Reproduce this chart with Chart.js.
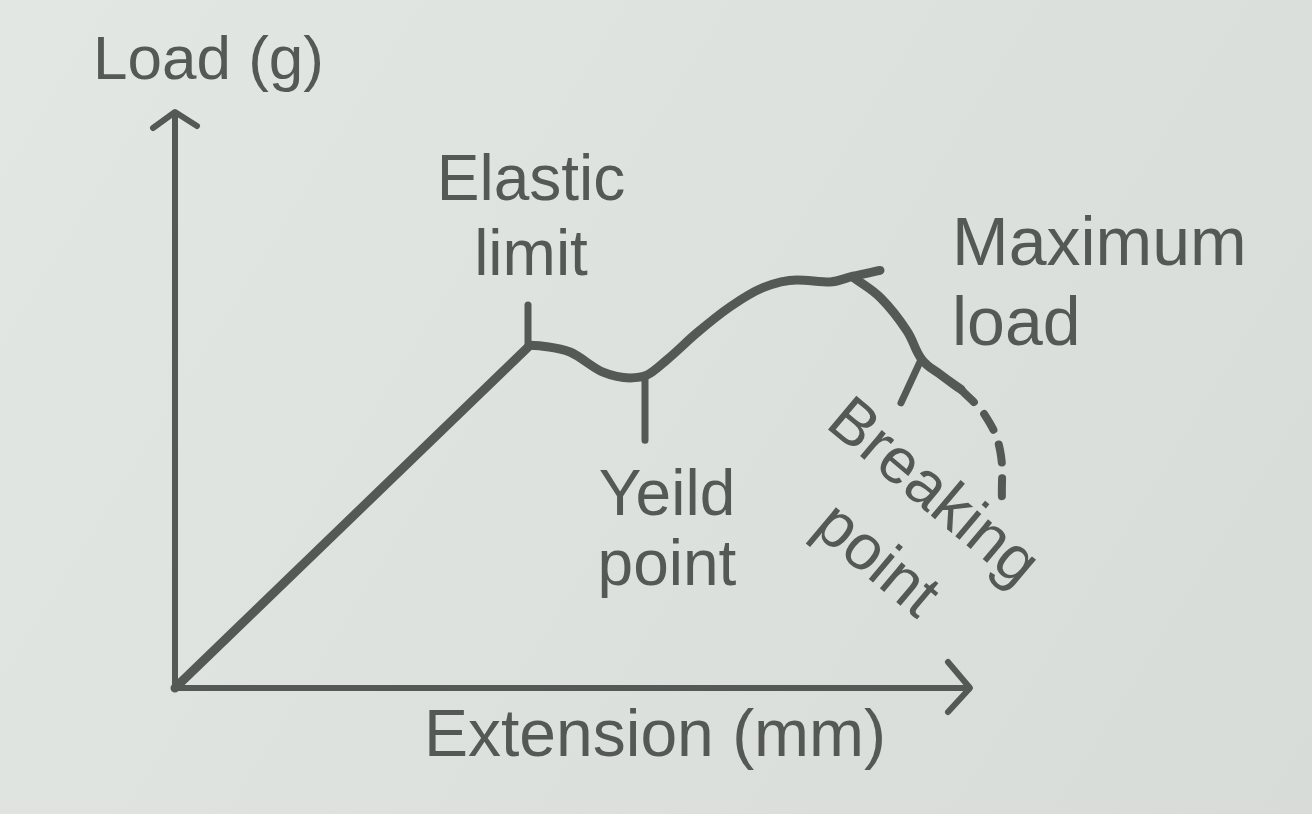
<!DOCTYPE html>
<html>
<head>
<meta charset="utf-8">
<script src="https://cdn.jsdelivr.net/npm/chart.js@4.4.1/dist/chart.umd.min.js"></script>
<style>
  html, body { margin: 0; padding: 0; background: #dde1de; }
  canvas { display: block; }
</style>
</head>
<body>
<canvas id="loadChart" width="1312" height="814"></canvas>
<script>
// --- data (extension in mm, load in g, arbitrary units) ---
const elasticX = [0, 35.5];
const elasticY = [0, 35.7];

const plasticX = [35.5, 36.8, 39.5, 42.8, 45.5, 47.2, 49.2, 52.2, 55.5, 58.8, 62.2, 65.5, 67.8, 70.5];
const plasticY = [35.7, 35.6, 35.0, 32.9, 32.3, 32.6, 34.2, 37.0, 39.7, 41.7, 42.5, 42.3, 42.9, 43.5];

const fallX = [67.8, 70.6, 73.2, 74.7, 76.6, 78.6];
const fallY = [42.8, 40.6, 37.2, 34.2, 32.6, 31.1];

const breakX = [78.6, 81.0, 82.5, 82.7];
const breakY = [31.1, 28.4, 24.8, 19.6];

// short marker strokes at the labelled points
const elasticTickX = [35.3, 35.3];
const elasticTickY = [35.7, 39.9];
const yieldTickX = [47.0, 47.0];
const yieldTickY = [32.4, 25.8];
const breakTickX = [74.6, 72.6];
const breakTickY = [34.2, 29.7];

const axisMaxX = 79.3;
const axisMaxY = 60;

const INK = '#555956';
const FONT = '"Liberation Sans", Arial, sans-serif';

const toPoints = (xs, ys) => xs.map((x, i) => ({ x, y: ys[i] }));

// label text, anchored in data units
const labels = [
    { text: 'Load (g)', x: -8.2, y: 63.4, align: 'left', size: 62 },
    { text: 'Extension (mm)', x: 48.0, y: -7.1, align: 'center', size: 66 },
    { text: 'Elastic', x: 35.6, y: 50.8, align: 'center', size: 64 },
    { text: 'limit', x: 35.6, y: 43.0, align: 'center', size: 64 },
    { text: 'Yeild', x: 49.2, y: 18.0, align: 'center', size: 64 },
    { text: 'point', x: 49.2, y: 10.7, align: 'center', size: 64 },
    { text: 'Maximum', x: 77.7, y: 44.1, align: 'left', size: 68 },
    { text: 'load', x: 77.7, y: 35.7, align: 'left', size: 68 },
    { text: 'Breaking', x: 64.9, y: 27.3, align: 'left', size: 64, angle: 40 },
    { text: 'point', x: 63.6, y: 16.4, align: 'left', size: 64, angle: 40 }
];

const paperPlugin = {
    id: 'paper',
    beforeDraw(chart) {
        const { ctx, width, height } = chart;
        const g = ctx.createLinearGradient(0, 0, width, height);
        g.addColorStop(0, '#e3e7e4');
        g.addColorStop(1, '#d7dcd9');
        ctx.save();
        ctx.fillStyle = g;
        ctx.fillRect(0, 0, width, height);
        ctx.restore();
    }
};

const axesPlugin = {
    id: 'arrowAxes',
    beforeDatasetsDraw(chart) {
        const { ctx, scales: { x, y } } = chart;
        const ox = x.getPixelForValue(0), oy = y.getPixelForValue(0);
        const tx = x.getPixelForValue(axisMaxX), ty = y.getPixelForValue(axisMaxY);
        ctx.save();
        ctx.strokeStyle = INK;
        ctx.lineWidth = 6;
        ctx.lineCap = 'round';
        ctx.lineJoin = 'round';
        ctx.beginPath();
        ctx.moveTo(ox, ty + 2);
        ctx.lineTo(ox, oy);
        ctx.lineTo(tx, oy);
        ctx.stroke();
        // open arrow heads
        ctx.beginPath();
        ctx.moveTo(ox - 22, ty + 16);
        ctx.lineTo(ox, ty);
        ctx.lineTo(ox + 22, ty + 14);
        ctx.moveTo(tx - 20, oy - 26);
        ctx.lineTo(tx + 2, oy);
        ctx.lineTo(tx - 20, oy + 24);
        ctx.stroke();
        ctx.restore();
    },
    afterDraw(chart) {
        const { ctx, scales: { x, y } } = chart;
        ctx.save();
        ctx.fillStyle = INK;
        ctx.textBaseline = 'alphabetic';
        labels.forEach(l => {
            ctx.save();
            ctx.translate(x.getPixelForValue(l.x), y.getPixelForValue(l.y));
            if (l.angle) ctx.rotate(l.angle * Math.PI / 180);
            ctx.font = `${l.size}px ${FONT}`;
            ctx.textAlign = l.align;
            ctx.fillText(l.text, 0, 0);
            ctx.restore();
        });
        ctx.restore();
    }
};

const line = (data, extra) => Object.assign({
    data,
    showLine: true,
    borderColor: INK,
    borderWidth: 9,
    pointRadius: 0,
    borderCapStyle: 'round',
    borderJoinStyle: 'round',
    clip: false,
    tension: 0
}, extra);

new Chart(document.getElementById('loadChart'), {
    type: 'scatter',
    data: {
        datasets: [
            line(toPoints(elasticX, elasticY)),
            line(toPoints(plasticX, plasticY), { cubicInterpolationMode: 'monotone' }),
            line(toPoints(fallX, fallY), { tension: 0.4 }),
            line(toPoints(breakX, breakY), { tension: 0.4, borderDash: [18, 16], borderWidth: 8 }),
            line(toPoints(elasticTickX, elasticTickY), { borderWidth: 7 }),
            line(toPoints(yieldTickX, yieldTickY), { borderWidth: 7 }),
            line(toPoints(breakTickX, breakTickY), { borderWidth: 7 })
        ]
    },
    options: {
        responsive: false,
        animation: false,
        layout: { padding: { left: 175, right: 137, top: 112, bottom: 126 } },
        scales: {
            x: { type: 'linear', display: false, min: 0, max: 100 },
            y: { type: 'linear', display: false, min: 0, max: 60 }
        },
        plugins: { legend: { display: false }, tooltip: { enabled: false } }
    },
    plugins: [paperPlugin, axesPlugin]
});
</script>
</body>
</html>
